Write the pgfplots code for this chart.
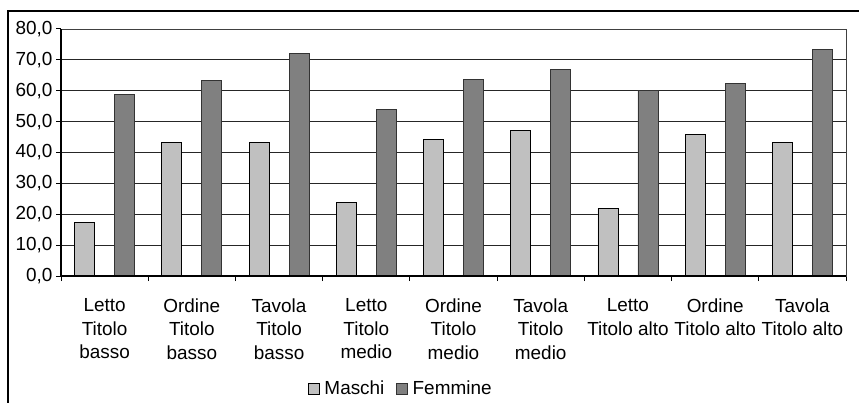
\documentclass[border=0pt]{standalone}
\usepackage{pgfplots}
\pgfplotsset{compat=1.18}
\usepackage{pgfplotstable}
\usepackage{fontspec}
\setmainfont{Liberation Sans}

\definecolor{maschi}{HTML}{C0C0C0}
\definecolor{femmine}{HTML}{808080}

% Percentuali per tipo di compito e titolo di studio
\pgfplotstableread{
x maschi femmine
0 17.4 58.8
1 43.3 63.4
2 43.3 72.0
3 23.9 54.0
4 44.3 63.7
5 47.1 66.9
6 22.0 60.1
7 45.9 62.4
8 43.2 73.4
}\datatable

\begin{document}
\begin{tikzpicture}
\useasboundingbox (0,0) rectangle (859bp,403bp);
% outer frame
\draw[line width=2.5bp] (8bp,-10bp) -- (8bp,392bp) -- (870bp,392bp);
\begin{axis}[
  at={(61bp,127bp)}, anchor=south west,
  scale only axis, width=785bp, height=247bp,
  clip=false,
  ybar=20bp, bar width=20bp,
  xmin=-0.5, xmax=8.5, ymin=0, ymax=80,
  ytick={0,10,...,80},
  xtick={-0.5,0.5,...,8.5},
  xtick pos=bottom, ytick pos=left,
  x tick label as interval,
  xticklabels={
    {Letto\\Titolo\\basso},
    {Ordine\\Titolo\\basso},
    {Tavola\\Titolo\\basso},
    {Letto\\Titolo\\medio},
    {Ordine\\Titolo\\medio},
    {Tavola\\Titolo\\medio},
    {Letto\\Titolo alto},
    {Ordine\\Titolo alto},
    {Tavola\\Titolo alto}},
  tick align=outside,
  major tick length=5bp,
  tick style={black, line width=1bp},
  ymajorgrids,
  major grid style={black!85, line width=0.9bp},
  axis line style={black!75, line width=0.8bp},
  /pgf/number format/.cd, fixed, fixed zerofill, precision=1, use comma, assume math mode=true,
  /pgfplots/.cd,
  tick label style={font=\fontsize{19}{23.8}\selectfont},
  x tick label style={align=center, yshift=-14bp},
  legend style={at={(0.433,-0.457)}, anchor=center, draw=none, fill=none,
    legend columns=2, font=\fontsize{19}{20}\selectfont,
    /tikz/every even column/.append style={column sep=10bp},
    legend cell align=left, inner sep=0pt},
  legend image code/.code={\draw[#1, line width=0.7bp] (0bp,-5bp) rectangle (10.5bp,5.5bp);
    \path (13.5bp,0bp);},
]
\addplot[fill=maschi, draw=black, line width=0.8bp] table[x=x, y=maschi] {\datatable};
\addplot[fill=femmine, draw=black!80, line width=0.8bp] table[x=x, y=femmine] {\datatable};
\legend{Maschi, Femmine}
\draw[black, line width=2bp] (rel axis cs:0,0) -- (rel axis cs:1,0);
\draw[black, line width=2bp] (rel axis cs:0,0) -- (rel axis cs:0,1);
\end{axis}
\end{tikzpicture}
\end{document}
